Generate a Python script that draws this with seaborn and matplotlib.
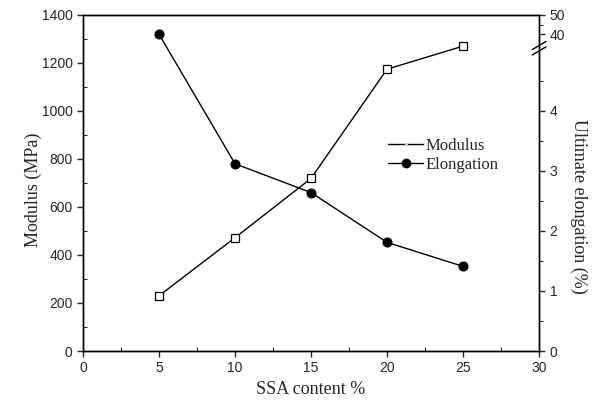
import numpy as np
import pandas as pd
import matplotlib
matplotlib.use("Agg")
import matplotlib.pyplot as plt
from matplotlib.lines import Line2D
import seaborn as sns

ssa = [5, 10, 15, 20, 25]
modulus = [230, 472, 719, 1174, 1270]
elongation = [40, 3.12, 2.64, 1.81, 1.41]

left_ticks = [0, 200, 400, 600, 800, 1000, 1200, 1400]
x_ticks = [0, 5, 10, 15, 20, 25, 30]
right_ticks = [0, 1, 2, 3, 4, 40, 50]
right_minor = [0.5, 1.5, 2.5, 3.5, 4.5, 45]

sns.set_style("ticks")
plt.rcParams['font.family'] = ['Liberation Sans', 'DejaVu Sans']

df = pd.DataFrame({"ssa": ssa, "modulus": modulus, "elongation": elongation})

fig = plt.figure(figsize=(5.97, 4.03), dpi=100)
ax = fig.add_axes([0.139, 0.129, 0.764, 0.834])

sns.lineplot(data=df, x="ssa", y="modulus", ax=ax, color="black", lw=1,
             marker="s", markersize=5.5, markerfacecolor="white",
             markeredgecolor="black", markeredgewidth=0.9)
ax.set_xlim(0, 30)
ax.set_ylim(0, 1400)
ax.set_xticks(x_ticks)
ax.set_yticks(left_ticks)
ax.set_xticks(np.arange(2.5, 30, 5), minor=True)
ax.set_yticks(np.arange(100, 1400, 200), minor=True)
ax.tick_params(axis='both', which='major', direction='out', length=4, width=1,
               labelsize=10, top=False)
ax.tick_params(axis='both', which='minor', direction='in', length=3, width=0.8)
ax.set_xlabel("SSA content %", family=['Liberation Serif'], fontsize=13, labelpad=4)
ax.set_ylabel("Modulus (MPa)", family=['Liberation Serif'], fontsize=13, labelpad=0)
ax.yaxis.label.set_y(0.48)
for s in ax.spines.values():
    s.set_linewidth(1)
    s.set_color("black")

# broken right axis: 0-5.045 linear, 32.76-50 compressed
B = 5.045
U = 32.76
slope = 0.0322
xp = np.array([-100.0, B, U, 1000.0])
fp = np.array([-100.0, B, B + 1e-4, B + 1e-4 + (1000.0 - U) * slope])

def fwd(v):
    return np.interp(v, xp, fp)

def inv(v):
    return np.interp(v, fp, xp)

ax2 = ax.twinx()
ax2.set_yscale('function', functions=(fwd, inv))
sns.lineplot(data=df, x="ssa", y="elongation", ax=ax2, color="black", lw=1,
             marker="o", markersize=6.5, markerfacecolor="black",
             markeredgecolor="black")
ax2.set_ylim(0, 50)
ax2.set_yticks(right_ticks)
ax2.set_yticklabels([str(t) for t in right_ticks])
ax2.set_yticks(right_minor, minor=True)
ax2.tick_params(axis='y', which='major', direction='out', length=4, width=1, labelsize=10)
ax2.tick_params(axis='y', which='minor', direction='out', length=3, width=0.8)
ax2.set_ylabel("Ultimate elongation (%)", family=['Liberation Serif'], fontsize=13,
               rotation=270, labelpad=16)
ax2.yaxis.label.set_y(0.43)
for s in ax2.spines.values():
    s.set_linewidth(1)
    s.set_color("black")

# break marks on right spine
ybreak = (B - 0) / fwd(50)
for dy in (-0.008, 0.008):
    ax2.plot([0.985, 1.015], [ybreak + dy - 0.012, ybreak + dy + 0.012],
             transform=ax2.transAxes, color="black", lw=1, clip_on=False)

handles = [
    Line2D([], [], color="black", lw=1, marker="s", markersize=2,
           markerfacecolor="white", markeredgecolor="#bbbbbb", markeredgewidth=0.5),
    Line2D([], [], color="black", lw=1, marker="o", markersize=6,
           markerfacecolor="black", markeredgecolor="black"),
]
leg = ax.legend(handles, ["Modulus", "Elongation"], loc="upper left",
                bbox_to_anchor=(0.655, 0.655), frameon=False,
                prop={'family': 'Liberation Serif', 'size': 12},
                handlelength=2.1, handletextpad=0.1, labelspacing=0.2,
                borderaxespad=0)

fig.savefig("out.png", dpi=100)
